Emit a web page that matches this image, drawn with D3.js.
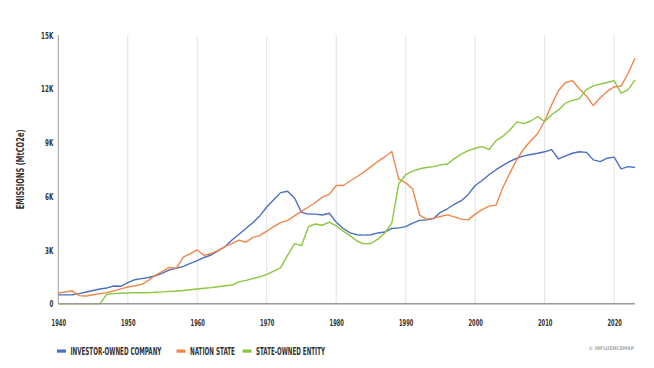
<!DOCTYPE html>
<html><head><meta charset="utf-8">
<script src="https://cdn.jsdelivr.net/npm/d3@7"></script>
<style>
html,body{margin:0;padding:0;background:#fff;}
svg{display:block;}
text{font-family:"DejaVu Sans Condensed","Liberation Sans Narrow",sans-serif;font-weight:bold;}
</style></head>
<body><svg id="c" width="654" height="368"></svg>
<script>
const startYear = 1940, endYear = 2023;
const years = d3.range(startYear, endYear + 1);
const seriesNames = ["INVESTOR-OWNED COMPANY", "NATION STATE", "STATE-OWNED ENTITY"];
const seriesColors = ["#4a6fc2", "#f0864a", "#8cc63f"];
const investorOwned = [490,490,490,560,650,740,820,880,990,970,
 1180,1340,1400,1460,1560,1710,1890,1980,2080,2250,
 2400,2580,2720,2950,3180,3560,3880,4200,4520,4900,
 5400,5800,6200,6280,5900,5100,5000,5000,4950,5050,
 4550,4200,3950,3850,3830,3850,3950,4000,4200,4230,
 4300,4500,4650,4680,4750,5100,5300,5550,5750,6100,
 6600,6880,7200,7480,7720,7950,8120,8250,8330,8400,
 8480,8600,8080,8250,8400,8480,8450,8030,7930,8120,
 8180,7530,7650,7600];
const nationState = [600,650,720,450,430,500,560,620,720,830,
 930,1000,1080,1300,1600,1800,2030,1980,2600,2800,
 3000,2700,2800,2980,3200,3350,3550,3430,3700,3800,
 4050,4300,4530,4650,4900,5150,5400,5650,5950,6100,
 6600,6600,6850,7100,7350,7650,7950,8200,8500,6950,
 6750,6400,4950,4720,4780,4870,4960,4850,4720,4680,
 5000,5250,5450,5500,6500,7300,8050,8650,9100,9500,
 10200,11100,11900,12350,12450,12000,11600,11060,11500,11850,
 12100,12150,12850,13700];
const stateOwned = [0,0,0,0,0,0,0,530,560,580,
 600,620,610,620,640,660,690,710,740,780,
 820,860,900,950,1000,1040,1220,1300,1400,1500,
 1640,1820,2000,2700,3350,3240,4300,4450,4380,4550,
 4350,4050,3800,3500,3340,3360,3600,3950,4500,6700,
 7200,7400,7530,7600,7650,7750,7800,8100,8350,8550,
 8680,8770,8600,9100,9350,9700,10150,10050,10200,10450,
 10170,10550,10820,11200,11350,11450,11950,12160,12260,12350,
 12450,11750,11950,12500];
const yTicks = [0, 3000, 6000, 9000, 12000, 15000];
const yTickLabels = ["0", "3K", "6K", "9K", "12K", "15K"];
const xTicks = [1940, 1950, 1960, 1970, 1980, 1990, 2000, 2010, 2020];
const yTitle = "EMISSIONS (MtCO2e)";
const credit = "© INFLUENCEMAP";

const seriesValues = [investorOwned, nationState, stateOwned];
const svg = d3.select("#c");
const x = d3.scaleLinear().domain([startYear, endYear]).range([58.3, 635]);
const y = d3.scaleLinear().domain([0, 15000]).range([303.7, 35]);

// squeeze text horizontally to mimic the condensed display face
function condense(sel, f) {
  sel.each(function () {
    const w = this.getComputedTextLength();
    d3.select(this).attr("textLength", w * f).attr("lengthAdjust", "spacingAndGlyphs");
  });
}

// vertical gridlines
svg.append("g").selectAll("line").data(xTicks.slice(1)).join("line")
  .attr("x1", d => x(d)).attr("x2", d => x(d))
  .attr("y1", y(15000)).attr("y2", y(0))
  .attr("stroke", "#e3e3e3").attr("stroke-width", 1);

// left axis line
svg.append("line").attr("x1", x(startYear)).attr("x2", x(startYear))
  .attr("y1", y(15000)).attr("y2", y(0)).attr("stroke", "#9a9a9a").attr("stroke-width", 1);

// y tick labels
const yAxis = d3.axisLeft(y).tickValues(yTicks).tickFormat((d, i) => yTickLabels[i]).tickSize(0).tickPadding(5);
const gy = svg.append("g").attr("transform", `translate(${x(startYear)},0)`).call(yAxis);
gy.select(".domain").remove();
gy.selectAll("text").attr("font-size", 9.5).attr("fill", "#333")
  .style("font-family", '"DejaVu Sans Condensed",sans-serif').style("font-weight", "bold")
  .call(condense, 0.66);

// x tick labels
const xAxis = d3.axisBottom(x).tickValues(xTicks).tickFormat(d3.format("d")).tickSize(0).tickPadding(15.5);
const gx = svg.append("g").attr("transform", `translate(0,${y(0)})`).call(xAxis);
gx.select(".domain").remove();
gx.selectAll("text").attr("font-size", 9).attr("fill", "#333")
  .style("font-family", '"DejaVu Sans Condensed",sans-serif').style("font-weight", "bold")
  .call(condense, 0.64);

// lines
const line = d3.line().x((d, i) => x(years[i])).y(d => y(d));
svg.append("g").selectAll("path").data(seriesValues).join("path")
  .attr("d", d => line(d)).attr("fill", "none")
  .attr("stroke", (d, i) => seriesColors[i]).attr("stroke-width", 1.4)
  .attr("stroke-linejoin", "round");

// bottom axis line
svg.append("line").attr("x1", x(startYear)).attr("x2", x(endYear))
  .attr("y1", y(0)).attr("y2", y(0)).attr("stroke", "#9a9a9a").attr("stroke-width", 1.6);

// y title (scaled to the narrow face)
const yt = svg.append("text").attr("text-anchor", "middle").attr("font-size", 10.5)
  .attr("fill", "#333").text(yTitle);
const ytw = yt.node().getComputedTextLength();
yt.attr("transform", `translate(24,${(y(15000) + y(0)) / 2}) rotate(-90) scale(${80 / ytw},1)`);

// legend
const legX = [57, 176.5, 242.5];
const legW = [91, 45, 69];
const leg = svg.append("g").selectAll("g").data(seriesNames).join("g")
  .attr("transform", (d, i) => `translate(${legX[i]},351)`);
leg.append("rect").attr("x", 0).attr("y", -1.5).attr("width", 9).attr("height", 3.2)
  .attr("fill", (d, i) => seriesColors[i]);
leg.append("text").attr("font-size", 9.8).attr("fill", "#333").text(d => d)
  .each(function (d, i) {
    const w = this.getComputedTextLength();
    d3.select(this).attr("transform", `translate(13.5,3.8) scale(${legW[i] / w},1)`);
  });

svg.append("text").attr("x", 634).attr("y", 350).attr("text-anchor", "end")
  .attr("font-size", 5).attr("fill", "#aaa").text(credit);
</script></body></html>
